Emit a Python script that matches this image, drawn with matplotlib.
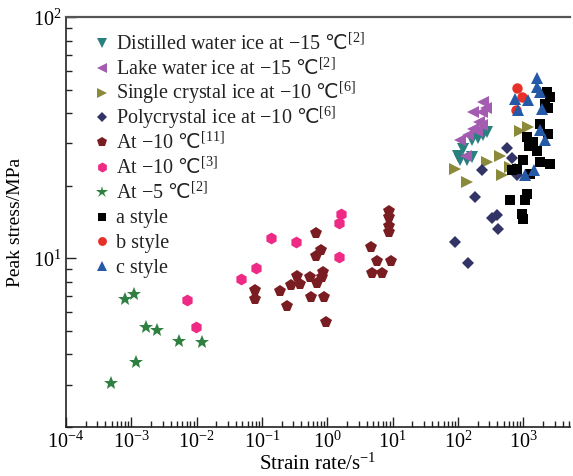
import matplotlib
matplotlib.use("Agg")
import matplotlib.pyplot as plt
from matplotlib.ticker import LogLocator, NullFormatter

plt.rcParams["font.family"] = ["Liberation Serif", "DejaVu Serif"]
plt.rcParams["mathtext.fontset"] = "custom"
plt.rcParams["mathtext.rm"] = "Liberation Serif"
plt.rcParams["mathtext.it"] = "Liberation Serif:italic"
plt.rcParams["mathtext.sf"] = "Noto Sans CJK SC"
plt.rcParams["mathtext.default"] = "rm"

# Distilled water ice at -15 C [2]
distilled_rate = [274, 238, 204, 161, 120, 100.7, 135, 107, 161]
distilled_stress = [33.4, 32.4, 31.7, 30.9, 28.5, 26.7, 25.5, 25.7, 26.3]

# Lake water ice at -15 C [2]
lake_rate = [243, 267, 171, 230, 211, 230, 171, 197, 107, 143, 132]
lake_stress = [44.6, 42.1, 40.3, 40.5, 36.8, 35.6, 34.5, 33.7, 31.1, 32.4, 26.7]

# Single crystal ice at -10 C [6]
single_rate = [89.7, 135, 274, 438, 465, 622, 885, 1186]
single_stress = [23.5, 20.7, 25.1, 26.7, 22.1, 23.9, 33.7, 35.1]

# Polycrystal ice at -10 C [6]
poly_rate = [230, 181, 327, 390, 412, 89.7, 143, 554, 661, 743, 788]
poly_stress = [23.2, 17.9, 14.7, 15.2, 13.25, 11.65, 9.53, 28.8, 26.2, 23.5, 22.1]

# At -10 C [11]
ref11_rate = [0.662, 0.789, 0.67, 0.865, 0.818, 0.542, 0.346, 0.381, 0.274,
              0.685, 0.078, 0.078, 0.188, 0.243, 0.561, 0.898, 0.953,
              8.77, 8.77, 8.77, 8.77, 4.6, 5.8, 9.3, 4.82, 6.78]
ref11_stress = [12.76, 10.87, 10.26, 8.80, 8.39, 8.34, 8.47, 7.83, 7.75,
                7.94, 7.41, 6.78, 7.34, 6.35, 6.89, 6.89, 5.47,
                15.8, 14.8, 13.68, 12.83, 11.18, 9.78, 9.78, 8.66, 8.74]

# At -10 C [3]
ref3_rate = [7.0e-3, 9.75e-3, 0.0477, 0.0807, 0.137, 0.331, 1.52, 1.52, 1.6]
ref3_stress = [6.72, 5.2, 8.2, 9.09, 12.1, 11.65, 10.1, 13.98, 15.3]

# At -5 C [2]
ref2_rate = [8.0e-4, 1.1e-3, 1.67e-3, 2.5e-3, 5.4e-3, 1.22e-2, 1.18e-3, 4.8e-4]
ref2_stress = [6.78, 7.11, 5.2, 5.07, 4.55, 4.50, 3.72, 3.05]

# present tests
a_rate = [2270, 2547, 2138, 2400, 1792, 2400, 1122, 1415, 1230, 1596, 995,
          1792, 2547, 661, 788, 1260, 1122, 622, 1057, 940, 995]
a_stress = [49.0, 46.7, 43.6, 42.0, 36.2, 32.9, 31.9, 30.4, 29.2, 27.9, 25.7,
            25.1, 24.7, 23.2, 23.5, 22.4, 18.5, 17.4, 17.4, 15.3, 14.6]

b_rate = [805, 940, 769]
b_stress = [50.7, 46.7, 41.4]

c_rate = [1596, 1596, 1792, 743, 1186, 1902, 834, 1792, 2138, 1057, 1466]
c_stress = [55.8, 51.4, 49.0, 46.0, 45.3, 41.8, 41.2, 34.0, 30.9, 22.1, 23.2]


def ref_label(text, ref):
    return text + " " + r"$\mathsf{℃}^{[" + ref + "]}$"


series = [
    (distilled_rate, distilled_stress, "v", "#28807f", 9,
     ref_label("Distilled water ice at \u221215", "2")),
    (lake_rate, lake_stress, "<", "#a45cb0", 9,
     ref_label("Lake water ice at \u221215", "2")),
    (single_rate, single_stress, ">", "#8a8a3a", 9,
     ref_label("Single crystal ice at \u221210", "6")),
    (poly_rate, poly_stress, "D", "#323468", 6.5,
     ref_label("Polycrystal ice at \u221210", "6")),
    (ref11_rate, ref11_stress, "p", "#7a1d22", 8.5,
     ref_label("At \u221210", "11")),
    (ref3_rate, ref3_stress, "h", "#ee2a85", 8.5,
     ref_label("At \u221210", "3")),
    (ref2_rate, ref2_stress, "*", "#2f8040", 10.5,
     ref_label("At \u22125", "2")),
    (a_rate, a_stress, "s", "#000000", 6.5, "a style"),
    (b_rate, b_stress, "o", "#e8302a", 7.5, "b style"),
    (c_rate, c_stress, "^", "#2459a8", 9, "c style"),
]

fig = plt.figure(figsize=(5.73, 4.76), dpi=100)
ax = fig.add_axes([0.1152, 0.103, 0.8798, 0.8607])

for x, y, marker, color, size, label in series:
    ax.plot(x, y, linestyle="none", marker=marker, color=color,
            markersize=size, markeredgewidth=0)

ax.set_xscale("log")
ax.set_yscale("log")
ax.set_xlim(1e-4, 5.2e3)
ax.set_ylim(2, 100)

ax.xaxis.set_major_locator(LogLocator(base=10, numticks=12))
ax.xaxis.set_minor_locator(LogLocator(base=10, subs=range(2, 10), numticks=12))
ax.xaxis.set_minor_formatter(NullFormatter())
ax.yaxis.set_minor_formatter(NullFormatter())

ax.tick_params(which="both", direction="in", top=False, right=False,
               labelsize=14.5, width=1.0, color="#222222")
ax.tick_params(which="major", length=7, pad=3)
ax.tick_params(which="minor", length=4)

ax.spines["right"].set_visible(False)
ax.spines["top"].set_color("#555555")
ax.spines["top"].set_linewidth(1.6)
for side in ("left", "bottom"):
    ax.spines[side].set_linewidth(1.2)
    ax.spines[side].set_color("#222222")

ax.set_xlabel("Strain rate/s$^{\u22121}$", fontsize=15)
ax.set_ylabel("Peak stress/MPa", fontsize=14)
ax.xaxis.set_label_coords(0.5, -0.066)
ax.yaxis.set_label_coords(-0.083, 0.5)

# hand-built legend so every row sits on the same pitch
row_top, row_step = 0.937, 0.0605
handle_x, text_x = 0.0714, 0.0992
for i, (_, _, marker, color, size, label) in enumerate(series):
    ry = row_top - i * row_step
    ax.plot([handle_x], [ry], transform=ax.transAxes, linestyle="none",
            marker=marker, color=color, markersize=size * 0.85,
            markeredgewidth=0, clip_on=False)
    ax.text(text_x, ry - 0.016, label, transform=ax.transAxes,
            fontsize=14.5, ha="left", va="baseline", color="#222222")

fig.savefig("out.png", dpi=100)
